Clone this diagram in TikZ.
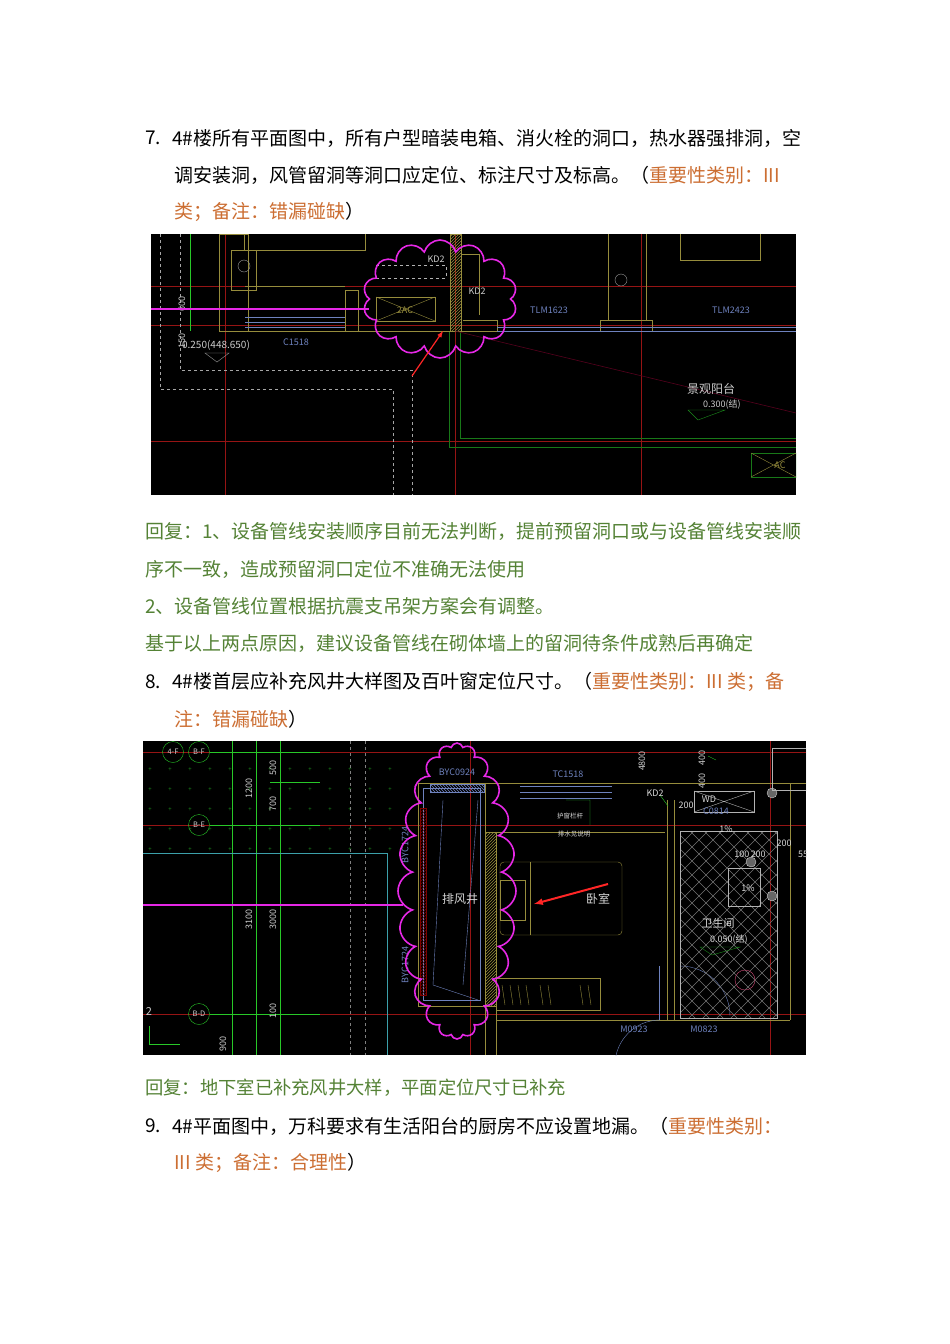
\documentclass[tikz,border=0pt]{standalone}
\usepackage{fontspec}
\setmainfont{Noto Sans CJK SC}
\newfontfamily\cjk{Noto Sans CJK SC}
\usetikzlibrary{shapes.symbols,patterns}
\definecolor{orn}{RGB}{204,110,50}
\definecolor{grn}{RGB}{84,130,53}
\definecolor{cadred}{RGB}{150,20,20}
\definecolor{cadyel}{RGB}{150,140,60}
\definecolor{cadgrn}{RGB}{40,200,40}
\definecolor{cadblu}{RGB}{110,130,190}
\definecolor{cadcyan}{RGB}{60,160,170}
\definecolor{mag}{RGB}{230,40,230}
\tikzset{
 body/.style={anchor=west,inner sep=0pt,font=\fontsize{19}{19}\selectfont},
 reply/.style={anchor=west,inner sep=0pt,text=grn,font=\fontsize{19}{19}\selectfont},
 cad/.style={inner sep=0pt,font=\cjk\fontsize{9}{9}\selectfont},
 cloudmark/.style={cloud,cloud puffs=14,draw=mag,line width=1.6pt,inner sep=0pt},
 redline/.style={draw=cadred,line width=0.7pt},
 arrowred/.style={draw=red!85!white,line width=1.2pt,-{latex}},
}
\begin{document}
\begin{tikzpicture}[x=1pt,y=-1pt]
\useasboundingbox (0,0) rectangle (950,1344);
\fill[white] (0,0) rectangle (950,1344);
% ---- item 7 text
\node[body] (n7) at (145,138) {7.};
\node[body] (t71) at (172,138) {4\#楼所有平面图中，所有户型暗装电箱、消火栓的洞口，热水器强排洞，空};
\node[body] (t72) at (174,175) {调安装洞，风管留洞等洞口应定位、标注尺寸及标高。（\textcolor{orn}{重要性类别：III}};
\node[body] (t73) at (174,212) {\textcolor{orn}{类；备注：错漏碰缺}）};
% ---- image 1
\fill[black] (151,234) rectangle (796,495);
\begin{scope}
\clip (151,234) rectangle (796,495);
\draw[redline] (151,286) -- (796,286);
\draw[redline] (151,325) -- (796,325);
\draw[redline] (151,441) -- (796,441);
\draw[redline] (225,234) -- (225,495);
\draw[redline] (455,234) -- (455,495);
\draw[redline] (641,234) -- (641,495);
\draw[gray!70,dashed,line width=0.8pt] (160,234) -- (160,389) -- (393,389) -- (393,495);
\draw[gray!70,dashed,line width=0.8pt] (180,234) -- (180,370) -- (412,370) -- (412,495);
\draw[cadgrn!60!black,line width=0.7pt] (449,331) -- (449,447) -- (796,447);
\draw[cadgrn!60!black,line width=0.7pt] (460,331) -- (460,438) -- (796,438);
\draw[cadgrn,line width=0.7pt] (190,234) -- (190,331);
\draw[cadyel,line width=0.7pt] (219,234) rectangle (248,331);
\draw[cadyel,line width=0.7pt] (231,250) rectangle (256,290);
\draw[cadyel,line width=0.7pt] (244,234) -- (244,250) -- (365,250) -- (365,234);
\draw[cadyel,line width=0.7pt] (245,286) -- (345,286);
\draw[cadyel,line width=0.7pt] (219,331) -- (497,331) -- (497,320) -- (463,320);
\draw[cadyel,line width=0.7pt] (345,290) rectangle (358,331);
\draw[cadyel,pattern=north east lines,pattern color=cadyel] (450,234) rectangle (461,331);
\draw[cadyel,line width=0.7pt] (461,254) -- (479,254) -- (479,315);
\draw[cadyel,line width=0.7pt] (600,320) rectangle (652,331);
\draw[cadyel,line width=0.7pt] (608,234) -- (608,320);
\draw[cadyel,line width=0.7pt] (646,234) -- (646,320);
\draw[cadyel,line width=0.7pt] (680,234) -- (680,260) -- (760,260) -- (760,234);
\draw[cadblu,line width=0.8pt] (245,317) -- (345,317) (245,322) -- (345,322) (245,327) -- (345,327);
\draw[cadblu,line width=0.8pt] (497,327) -- (796,327) (497,331) -- (796,331);
\draw[white!60!black] (244,266) circle (6pt);
\draw[white!60!black] (621,280) circle (6pt);
\draw[cadyel] (376,297) rectangle (435,321);
\draw[cadyel] (376,297) -- (435,321) (376,321) -- (435,297);
\node[cad,text=cadyel] (ac1) at (405,310) {2AC};
\draw[white!70!black,dashed] (376,265) -- (446,265) -- (446,278) -- (376,278);
\draw[purple!45!black,line width=0.6pt] (455,331) -- (796,413);
\draw[cadgrn!60!black] (751,453) rectangle (796,477);
\draw[cadyel] (751,453) -- (796,477) (751,477) -- (796,453);
\node[cad,text=cadyel] (ac2) at (780,465) {AC};
\draw[white!60!black] (205,353) -- (229,353) -- (217,362) -- cycle;
\draw[cadgrn!70!black] (688,410) -- (725,410) -- (698,420) -- cycle;
\node[cad,text=white!80!black] (kd2a) at (436,259) {KD2};
\node[cad,text=white!80!black] (kd2b) at (477,291) {KD2};
\node[cad,text=cadblu] (tlm1) at (549,310) {TLM1623};
\node[cad,text=cadblu] (tlm2) at (731,310) {TLM2423};
\node[cad,text=cadblu] (c1518) at (296,342) {C1518};
\node[cad,text=white!80!black,font=\cjk\fontsize{10}{10}\selectfont] (lv1) at (216,345) {0.250(448.650)};
\node[cad,text=white!80!black,font=\cjk\fontsize{12}{12}\selectfont] (jg) at (711,389) {景观阳台};
\node[cad,text=white!80!black] (lv2) at (722,405) {0.300(结)};
\node[cad,text=white!80!black,rotate=90] (d600) at (182,304) {600};
\node[cad,text=white!80!black,rotate=90] (d150) at (182,341) {150};
\draw[mag,line width=1.6pt] (151,309) -- (369,309);
\node[cloudmark,minimum width=154pt,minimum height=118pt] (cl1) at (440,299) {};
\coordinate (a1s) at (412,376);
\coordinate (a1e) at (443,331);
\draw[arrowred] (a1s) -- (a1e);
\end{scope}
% ---- reply 7
\node[reply] (r1) at (145,531) {回复：1、设备管线安装顺序目前无法判断，提前预留洞口或与设备管线安装顺};
\node[reply] (r2) at (145,569) {序不一致，造成预留洞口定位不准确无法使用};
\node[reply] (r3) at (145,606) {2、设备管线位置根据抗震支吊架方案会有调整。};
\node[reply] (r4) at (145,643) {基于以上两点原因，建议设备管线在砌体墙上的留洞待条件成熟后再确定};
% ---- item 8
\node[body] (n8) at (145,682) {8.};
\node[body] (t81) at (172,682) {4\#楼首层应补充风井大样图及百叶窗定位尺寸。（\textcolor{orn}{重要性类别：III 类；备}};
\node[body] (t82) at (174,719) {\textcolor{orn}{注：错漏碰缺}）};
% ---- image 2
\fill[black] (143,741) rectangle (806,1055);
\begin{scope}
\clip (143,741) rectangle (806,1055);
\foreach \yy in {770,790,810,830,850} {\foreach \xx in {150,170,...,390} {\node[cad,text=cadgrn!70!black,font=\fontsize{6}{6}\selectfont] at (\xx,\yy) {+};}}
\draw[redline] (143,752) -- (806,752);
\draw[redline] (143,825) -- (806,825);
\draw[redline] (143,1014) -- (806,1014);
\draw[redline] (470,741) -- (470,1055);
\draw[redline] (770,741) -- (770,1055);
\draw[cadgrn,line width=0.7pt] (232,741) -- (232,1055);
\draw[cadgrn,line width=0.7pt] (256,741) -- (256,1055);
\draw[cadgrn,line width=0.7pt] (280,741) -- (280,1055);
\draw[cadgrn,line width=0.7pt] (210,752) -- (320,752) (210,825) -- (320,825) (270,782) -- (320,782) (210,1014) -- (320,1014);
\draw[cadcyan,line width=0.7pt] (143,853) -- (387,853) -- (387,1055);
\draw[white!50!black,dashed] (350,741) -- (350,1055) (365,741) -- (365,1055);
\draw[cadgrn,line width=1pt] (149,1026) -- (149,1044) -- (180,1044);
\node[cad,text=white!80!black,font=\cjk\fontsize{11}{11}\selectfont] (two) at (149,1011) {2};
\foreach \nm/\px/\py/\tx in {c4f/173/752/4-F,cbf/199/752/B-F,cbe/199/825/B-E,cbd/199/1014/B-D} {
 \node[cad,draw=cadgrn,circle,minimum size=21pt,text=white!80!black,font=\cjk\fontsize{7.5}{7.5}\selectfont] (\nm) at (\px,\py) {\tx};}
\foreach \nm/\px/\py/\tx in {d1200/249/788/1200,d500/273/768/500,d700/273/804/700,d3100/249/919/3100,d3000/273/919/3000,d100/273/1011/100,d900/223/1044/900,d4800/642/761/4800,d400a/702/758/400,d400b/702/781/400} {
 \node[cad,rotate=90,text=white!80!black] (\nm) at (\px,\py) {\tx};}
% shaft
\draw[cadyel,line width=0.8pt] (418,783) rectangle (485,1006);
\draw[cadblu,line width=0.7pt] (423,788) rectangle (480,1000);
\draw[red!50!black,pattern=north east lines,pattern color=red!45!black] (420,808) rectangle (426,995);
\draw[cadblu,pattern=north west lines,pattern color=cadblu] (430,784) rectangle (484,792);
\draw[cadblu] (443,800) -- (433,985) -- (478,1000);
\draw[cadblu] (478,800) -- (463,985);
% walls
\draw[cadyel,line width=0.8pt] (485,783) -- (806,783);
\draw[cadyel,line width=0.8pt] (496,832) -- (496,1055) (485,1006) -- (485,1055);
\draw[cadyel,pattern=north east lines,pattern color=cadyel] (485,832) rectangle (496,1006);
\draw[cadyel,line width=0.8pt] (496,832) -- (665,832);
\draw[cadyel,line width=0.8pt] (667,800) -- (667,1020) (674,800) -- (674,1020);
\draw[cadyel,line width=0.8pt] (790,783) -- (790,1020);
\draw[cadyel,line width=0.8pt] (496,1020) -- (790,1020);
\draw[cadblu,line width=0.8pt] (520,786) -- (612,786) (520,792) -- (612,792) (520,798) -- (612,798);
\draw[cadyel,rounded corners=4pt] (500,862) rectangle (622,935);
\draw[cadyel] (500,880) rectangle (525,920);
\draw[cadyel] (530,862) -- (530,935);
\draw[cadyel] (496,978) rectangle (600,1010);
\foreach \xx in {502,510,518,526,540,548,580,588} {\draw[cadyel] (\xx,985) -- (\xx+3,1005);}
\draw[cadblu] (660,1020) arc (90:180:45pt) ;
\draw[cadblu] (659,966) -- (659,1020);
\draw[cadblu] (680,966) arc (90:0:50pt);
\begin{scope}
\clip (680,831) rectangle (777,1018);
\foreach \k in {-200,-186,...,120} {\draw[white!45!black,line width=0.5pt] (680+\k,831) -- (880+\k,1031) (880+\k,831) -- (680+\k,1031);}
\end{scope}
\draw[white!70!black] (680,831) rectangle (777,1018);
\draw[white!70!black] (728,868) rectangle (760,906);
\draw[purple!70!white] (745,980) circle (10pt);
\draw[white!80!black,fill=white!40!black] (772,793) circle (5pt);
\draw[white!80!black,fill=white!40!black] (751,862) circle (5pt);
\draw[white!80!black,fill=white!40!black] (772,896) circle (5pt);
\draw[white!70!black] (694,791) rectangle (754,812);
\draw[white!70!black] (694,791) -- (754,812) (694,812) -- (754,791);
\draw[white!70!black] (772,748) rectangle (806,790);
\draw[cadgrn] (708,756) -- (716,760) (660,795) -- (668,806) (566,800) -- (590,800) -- (590,825);
\draw[cadgrn!70!black] (700,947) -- (740,947) -- (712,955) -- cycle;
\node[cad,text=white!85!black,font=\cjk\fontsize{12}{12}\selectfont] (pfj) at (460,899) {排风井};
\node[cad,text=white!85!black,font=\cjk\fontsize{12}{12}\selectfont] (ws) at (598,899) {卧室};
\node[cad,text=white!85!black,font=\cjk\fontsize{11}{11}\selectfont] (wsj) at (718,923) {卫生间};
\node[cad,text=white!85!black] (lv3) at (729,940) {0.050(结)};
\node[cad,text=cadblu] (byc) at (457,772) {BYC0924};
\node[cad,text=cadblu,rotate=90] (byc2) at (405,845) {BYC1724};
\node[cad,text=cadblu,rotate=90] (byc3) at (405,965) {BYC1724};
\node[cad,text=cadblu] (tc) at (568,774) {TC1518};
\node[cad,text=white!85!black] (kd) at (655,793) {KD2};
\node[cad,text=cadblu] (m1) at (634,1029) {M0923};
\node[cad,text=cadblu] (m2) at (704,1029) {M0823};
\node[cad,text=white!85!black,font=\cjk\fontsize{6.5}{6.5}\selectfont] (hc) at (570,816) {护窗栏杆};
\node[cad,text=white!85!black,font=\cjk\fontsize{6.5}{6.5}\selectfont] (ps) at (574,834) {排水见说明};
\node[cad,text=white!85!black] (wd) at (709,799) {WD};
\node[cad,text=cadblu] (c0814) at (716,811) {C0814};
\node[cad,text=white!85!black] (s200a) at (686,805) {200};
\node[cad,text=white!85!black] (p1) at (726,829) {1\%};
\node[cad,text=white!85!black] (s100) at (750,854) {100\,200};
\node[cad,text=white!85!black] (s200b) at (784,843) {200};
\node[cad,text=white!85!black] (p2) at (748,888) {1\%};
\node[cad,text=white!85!black] (s55) at (803,854) {55};
\draw[mag,line width=1.6pt] (143,905) -- (403,905);
\node[cloudmark,cloud puffs=24,minimum width=118pt,minimum height=296pt,aspect=0.4] (cl2) at (457,891) {};
\coordinate (a2s) at (608,884);
\coordinate (a2e) at (534,904);
\draw[arrowred,line width=2pt] (a2s) -- (a2e);
\end{scope}
\node[reply,font=\fontsize{18.3}{18.3}\selectfont] (r5) at (145,1088) {回复：地下室已补充风井大样，平面定位尺寸已补充};
% ---- item 9
\node[body] (n9) at (145,1126) {9.};
\node[body] (t91) at (172,1126) {4\#平面图中，万科要求有生活阳台的厨房不应设置地漏。（\textcolor{orn}{重要性类别：}};
\node[body] (t92) at (174,1163) {\textcolor{orn}{III 类；备注：合理性}）};
\end{tikzpicture}
\end{document}
